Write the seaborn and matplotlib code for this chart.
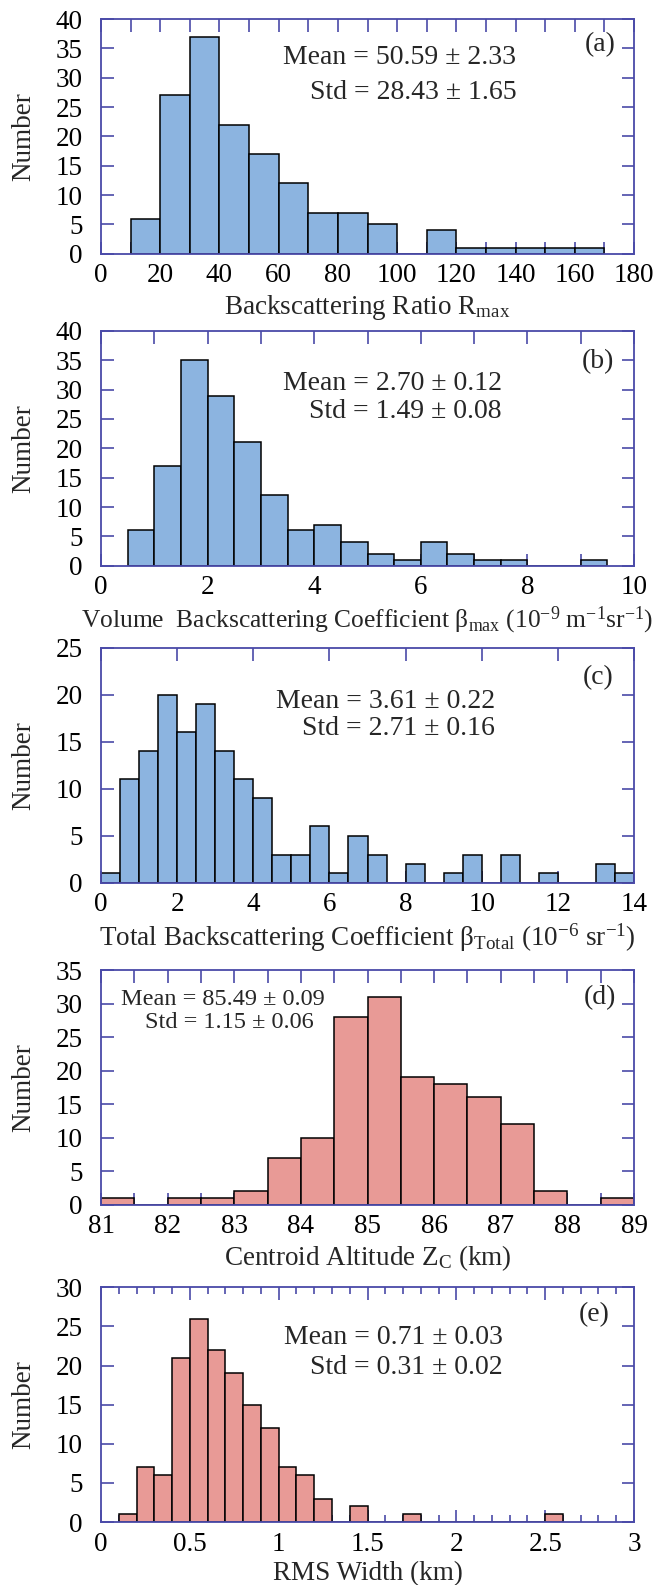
import matplotlib
matplotlib.use("Agg")
import numpy as np
import pandas as pd
import matplotlib.pyplot as plt
from matplotlib.ticker import MultipleLocator, FuncFormatter
import seaborn as sns

# histogram bin edges and counts
a_edges = [10, 20, 30, 40, 50, 60, 70, 80, 90, 100, 110, 120, 130, 140, 150, 160, 170]
a_counts = [6, 27, 37, 22, 17, 12, 7, 7, 5, 0, 4, 1, 1, 1, 1, 1]

b_edges = [0.5, 1.0, 1.5, 2.0, 2.5, 3.0, 3.5, 4.0, 4.5, 5.0, 5.5, 6.0, 6.5, 7.0, 7.5, 8.0, 8.5, 9.0, 9.5]
b_counts = [6, 17, 35, 29, 21, 12, 6, 7, 4, 2, 1, 4, 2, 1, 1, 0, 0, 1]

c_edges = [0.0, 0.5, 1.0, 1.5, 2.0, 2.5, 3.0, 3.5, 4.0, 4.5, 5.0, 5.5, 6.0, 6.5, 7.0,
           7.5, 8.0, 8.5, 9.0, 9.5, 10.0, 10.5, 11.0, 11.5, 12.0, 12.5, 13.0, 13.5, 14.0]
c_counts = [1, 11, 14, 20, 16, 19, 14, 11, 9, 3, 3, 6, 1, 5, 3,
            0, 2, 0, 1, 3, 0, 3, 0, 1, 0, 0, 2, 1]

d_edges = [81.0, 81.5, 82.0, 82.5, 83.0, 83.5, 84.0, 84.5, 85.0, 85.5, 86.0, 86.5, 87.0, 87.5, 88.0, 88.5, 89.0]
d_counts = [1, 0, 1, 1, 2, 7, 10, 28, 31, 19, 18, 16, 12, 2, 0, 1]

e_edges = [0.1, 0.2, 0.3, 0.4, 0.5, 0.6, 0.7, 0.8, 0.9, 1.0, 1.1, 1.2, 1.3, 1.4, 1.5, 1.6,
           1.7, 1.8, 1.9, 2.0, 2.1, 2.2, 2.3, 2.4, 2.5, 2.6]
e_counts = [1, 7, 6, 21, 26, 22, 19, 15, 12, 7, 6, 3, 0, 2, 0, 0,
            1, 0, 0, 0, 0, 0, 0, 0, 1]

xlabels = [
    r"Backscattering Ratio R$_{\mathrm{max}}$",
    r"Volume  Backscattering Coefficient β$_{\mathrm{max}}$ (10$^{\mathrm{-9}}$ m$^{\mathrm{-1}}$sr$^{\mathrm{-1}}$)",
    r"Total Backscattering Coefficient β$_{\mathrm{Total}}$ (10$^{\mathrm{-6}}$ sr$^{\mathrm{-1}}$)",
    r"Centroid Altitude Z$_{\mathrm{C}}$ (km)",
    "RMS Width (km)",
]
mean_txt = ["Mean = 50.59 ± 2.33", "Mean = 2.70 ± 0.12", "Mean = 3.61 ± 0.22",
            "Mean = 85.49 ± 0.09", "Mean = 0.71 ± 0.03"]
std_txt = ["Std = 28.43 ± 1.65", "Std = 1.49 ± 0.08", "Std = 2.71 ± 0.16",
           "Std = 1.15 ± 0.06", "Std = 0.31 ± 0.02"]
tags = ["(a)", "(b)", "(c)", "(d)", "(e)"]

sns.set_style("ticks")
plt.rcParams["font.family"] = ["Liberation Serif", "DejaVu Serif"]
plt.rcParams["mathtext.fontset"] = "custom"
plt.rcParams["mathtext.rm"] = "Liberation Serif"
plt.rcParams["mathtext.it"] = "Liberation Serif:italic"

blue = "#8cb4e0"
red = "#e89a96"
frame = "#4a4aa8"

panels = [
    dict(edges=a_edges, counts=a_counts, color=blue, xlim=(0, 180), xmaj=20, xmin=10, xminlen=9, xlfs=19.5,
         ylim=(0, 40), bottom=0.8399, sx=0.779, sy=(0.838, 0.685), ha="right", fs=20, tag=(0.936, 0.889)),
    dict(edges=b_edges, counts=b_counts, color=blue, xlim=(0, 10), xmaj=2, xmin=1, xminlen=9, xlfs=18.4,
         ylim=(0, 40), bottom=0.6431, sx=0.752, sy=(0.774, 0.655), ha="right", fs=20, tag=(0.932, 0.868)),
    dict(edges=c_edges, counts=c_counts, color=blue, xlim=(0, 14), xmaj=2, xmin=None, xminlen=9, xlfs=19.5,
         ylim=(0, 25), bottom=0.4431, sx=0.739, sy=(0.770, 0.655), ha="right", fs=20, tag=(0.933, 0.872)),
    dict(edges=d_edges, counts=d_counts, color=red, xlim=(81, 89), xmaj=1, xmin=0.5, xminlen=9, xlfs=19.5,
         ylim=(0, 35), bottom=0.2399, sx=(0.229, 0.241), sy=(0.873, 0.775), ha="center", fs=17.5, tag=(0.936, 0.882)),
    dict(edges=e_edges, counts=e_counts, color=red, xlim=(0, 3), xmaj=0.5, xmin=0.1, xminlen=5, xlfs=19.5,
         ylim=(0, 30), bottom=0.0397, sx=0.754, sy=(0.785, 0.658), ha="right", fs=20, tag=(0.925, 0.883)),
]

fig = plt.figure(figsize=(6.61, 15.85), dpi=100)

for i, p in enumerate(panels):
    ax = fig.add_axes([0.1528, p["bottom"], 0.8064, 0.1481])
    edges = np.array(p["edges"], dtype=float)
    df = pd.DataFrame({"x": (edges[:-1] + edges[1:]) / 2, "n": p["counts"]})
    sns.histplot(data=df, x="x", weights="n", bins=list(edges), ax=ax, color=p["color"],
                 edgecolor="black", linewidth=1.1, alpha=1.0)
    ax.set_xlim(*p["xlim"])
    ax.set_ylim(*p["ylim"])
    ax.xaxis.set_major_locator(MultipleLocator(p["xmaj"]))
    if p["xmin"]:
        ax.xaxis.set_minor_locator(MultipleLocator(p["xmin"]))
    ax.yaxis.set_major_locator(MultipleLocator(5))
    ax.xaxis.set_major_formatter(FuncFormatter(lambda v, pos: "%g" % v))

    for s in ax.spines.values():
        s.set_color(frame)
        s.set_linewidth(1.3)
        s.set_visible(True)
    ax.tick_params(which="major", direction="in", top=True, right=True, length=9, width=1.2,
                   color=frame, labelcolor="black", labelsize=19.5)
    ax.tick_params(which="minor", direction="in", top=True, right=True, length=p["xminlen"],
                   width=1.2, color=frame)
    ax.tick_params(axis="x", pad=7)
    ax.tick_params(axis="y", pad=13)

    ax.set_ylabel("Number", fontsize=19.5, labelpad=14)
    ax.set_xlabel(xlabels[i], fontsize=p["xlfs"], labelpad=3)
    ax.grid(False)

    sx = p["sx"] if isinstance(p["sx"], tuple) else (p["sx"], p["sx"])
    ax.text(sx[0], p["sy"][0], mean_txt[i], transform=ax.transAxes, ha=p["ha"], va="center", fontsize=p["fs"])
    ax.text(sx[1], p["sy"][1], std_txt[i], transform=ax.transAxes, ha=p["ha"], va="center", fontsize=p["fs"])
    ax.text(p["tag"][0], p["tag"][1], tags[i], transform=ax.transAxes, ha="center", va="center", fontsize=20)

fig.savefig("out.png", dpi=100)
